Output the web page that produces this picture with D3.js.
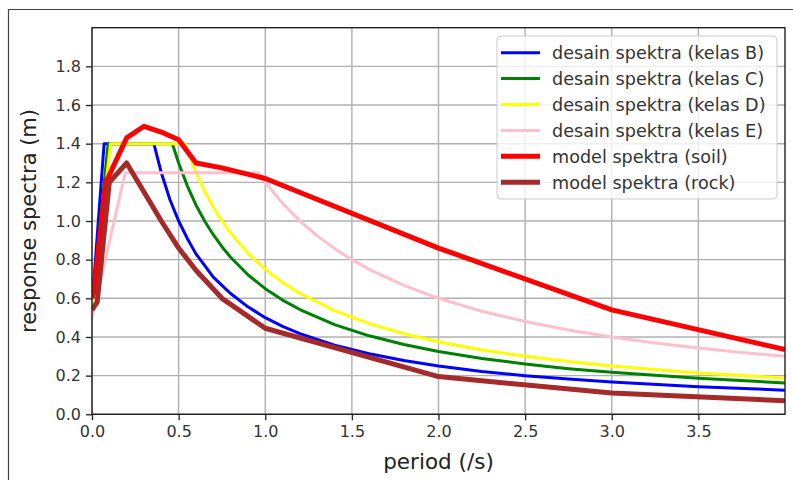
<!DOCTYPE html>
<html>
<head>
<meta charset="utf-8">
<script src="https://cdn.jsdelivr.net/npm/d3@7"></script>
<style>
  html, body { margin: 0; padding: 0; background: #fff; }
  svg { display: block; font-family: "DejaVu Sans", sans-serif; }
</style>
</head>
<body>
<svg id="chart" width="793" height="480"></svg>
<script>
// ---- data ----
const xTicks = [0, 0.5, 1.0, 1.5, 2.0, 2.5, 3.0, 3.5];
const yTicks = [0, 0.2, 0.4, 0.6, 0.8, 1.0, 1.2, 1.4, 1.6, 1.8];

const kelasB_T  = [0, 0.07, 0.357, 0.4, 0.45, 0.5, 0.55, 0.6, 0.65, 0.7, 0.75, 0.8, 0.9, 1.0, 1.1, 1.2, 1.4, 1.6, 1.8, 2.0, 2.25, 2.5, 2.75, 3.0, 3.5, 4.0];
const kelasB_Sa = [0.56, 1.4, 1.4, 1.25, 1.11, 1.0, 0.91, 0.83, 0.77, 0.71, 0.667, 0.625, 0.556, 0.5, 0.455, 0.417, 0.357, 0.313, 0.278, 0.25, 0.222, 0.2, 0.182, 0.167, 0.143, 0.125];

const kelasC_T  = [0, 0.093, 0.464, 0.5, 0.55, 0.6, 0.65, 0.7, 0.75, 0.8, 0.9, 1.0, 1.1, 1.2, 1.4, 1.6, 1.8, 2.0, 2.25, 2.5, 2.75, 3.0, 3.5, 4.0];
const kelasC_Sa = [0.56, 1.4, 1.4, 1.3, 1.182, 1.083, 1.0, 0.929, 0.867, 0.8125, 0.722, 0.65, 0.591, 0.542, 0.464, 0.406, 0.361, 0.325, 0.289, 0.26, 0.236, 0.217, 0.186, 0.1625];

const kelasD_T  = [0, 0.107, 0.536, 0.6, 0.65, 0.7, 0.75, 0.8, 0.9, 1.0, 1.1, 1.2, 1.4, 1.6, 1.8, 2.0, 2.25, 2.5, 2.75, 3.0, 3.5, 4.0];
const kelasD_Sa = [0.56, 1.4, 1.4, 1.25, 1.154, 1.071, 1.0, 0.9375, 0.833, 0.75, 0.682, 0.625, 0.536, 0.469, 0.417, 0.375, 0.333, 0.3, 0.273, 0.25, 0.214, 0.1875];

const kelasE_T  = [0, 0.192, 0.96, 1.0, 1.1, 1.2, 1.3, 1.4, 1.5, 1.6, 1.8, 2.0, 2.25, 2.5, 2.75, 3.0, 3.25, 3.5, 3.75, 4.0];
const kelasE_Sa = [0.5, 1.25, 1.25, 1.2, 1.091, 1.0, 0.923, 0.857, 0.8, 0.75, 0.667, 0.6, 0.533, 0.48, 0.436, 0.4, 0.369, 0.343, 0.32, 0.3];

const soil_T  = [0, 0.01, 0.08, 0.2, 0.3, 0.4, 0.5, 0.6, 0.75, 1.0, 2.0, 3.0, 4.0];
const soil_Sa = [0.6, 0.63, 1.2, 1.43, 1.49, 1.46, 1.42, 1.30, 1.275, 1.22, 0.86, 0.54, 0.335];

const rock_T  = [0, 0.03, 0.1, 0.2, 0.3, 0.4, 0.5, 0.6, 0.75, 1.0, 2.0, 3.0, 4.0];
const rock_Sa = [0.54, 0.58, 1.2, 1.30, 1.15, 1.0, 0.86, 0.745, 0.6, 0.445, 0.195, 0.11, 0.07];

const seriesNames = ["desain spektra (kelas B)", "desain spektra (kelas C)", "desain spektra (kelas D)",
                     "desain spektra (kelas E)", "model spektra (soil)", "model spektra (rock)"];

// ---- styling / layout ----
const colors = ["#0000ff", "#008000", "#ffff00", "#ffc0cb", "#ff0000", "#a52a2a"];
const widths = [3, 3, 3, 3, 5, 5];
const seriesT  = [kelasB_T, kelasC_T, kelasD_T, kelasE_T, soil_T, rock_T];
const seriesSa = [kelasB_Sa, kelasC_Sa, kelasD_Sa, kelasE_Sa, soil_Sa, rock_Sa];

const L = 92, R = 785, T = 27.7, B = 414.3;
const svg = d3.select("#chart");

// outer frame
svg.append("path").attr("d", "M8.5,480 V9.5 H793")
  .attr("fill", "none").attr("stroke", "#444").attr("stroke-width", 1.2);

const x = d3.scaleLinear().domain([0, 4]).range([L, R]);
const y = d3.scaleLinear().domain([0, 2]).range([B, T]);

// grid
const grid = svg.append("g");
grid.selectAll(".gx").data(xTicks).enter().append("line")
  .attr("x1", d => x(d)).attr("x2", d => x(d)).attr("y1", T).attr("y2", B)
  .attr("stroke", "#b0b0b0").attr("stroke-width", 1.4);
grid.selectAll(".gy").data(yTicks).enter().append("line")
  .attr("y1", d => y(d)).attr("y2", d => y(d)).attr("x1", L).attr("x2", R)
  .attr("stroke", "#b0b0b0").attr("stroke-width", 1.4);

// clip
svg.append("clipPath").attr("id", "clip").append("rect")
  .attr("x", L).attr("y", T).attr("width", R - L).attr("height", B - T);

const line = d3.line().x(d => x(d[0])).y(d => y(d[1]));
const plot = svg.append("g").attr("clip-path", "url(#clip)");
seriesT.forEach((ts, i) => {
  const pts = ts.map((t, j) => [t, seriesSa[i][j]]);
  plot.append("path").datum(pts).attr("d", line)
    .attr("fill", "none").attr("stroke", colors[i]).attr("stroke-width", widths[i])
    .attr("stroke-linejoin", "round").attr("stroke-linecap", "butt");
});

// axes
const fmt = d3.format(".1f");
const xAxis = svg.append("g").attr("transform", `translate(0,${B})`)
  .call(d3.axisBottom(x).tickValues(xTicks).tickFormat(fmt).tickSize(6).tickPadding(5));
const yAxis = svg.append("g").attr("transform", `translate(${L},0)`)
  .call(d3.axisLeft(y).tickValues(yTicks).tickFormat(fmt).tickSize(6).tickPadding(5));
[xAxis, yAxis].forEach(a => {
  a.select(".domain").remove();
  a.selectAll(".tick line").attr("stroke", "#222").attr("stroke-width", 1.3);
  a.selectAll(".tick text").attr("fill", "#333").style("font-size", "16px")
    .style("font-family", "DejaVu Sans");
});

// spines
svg.append("rect").attr("x", L).attr("y", T).attr("width", R - L).attr("height", B - T)
  .attr("fill", "none").attr("stroke", "#222").attr("stroke-width", 1.4);

// axis labels
svg.append("text").attr("x", (L + R) / 2).attr("y", 469).attr("text-anchor", "middle")
  .attr("fill", "#222").style("font-size", "21.5px").text("period (/s)");
svg.append("text").attr("transform", `translate(36,${(T + B) / 2}) rotate(-90)`)
  .attr("text-anchor", "middle").attr("fill", "#222").style("font-size", "21px")
  .text("response spectra (m)");

// legend
const lg = svg.append("g");
lg.append("rect").attr("x", 497).attr("y", 36).attr("width", 280).attr("height", 163)
  .attr("rx", 4).attr("fill", "rgba(255,255,255,0.8)").attr("stroke", "#cccccc").attr("stroke-width", 1);
seriesNames.forEach((name, i) => {
  const yy = 52.7 + i * 25.9;
  lg.append("line").attr("x1", 501).attr("x2", 540).attr("y1", yy).attr("y2", yy)
    .attr("stroke", colors[i]).attr("stroke-width", widths[i]);
  lg.append("text").attr("x", 552).attr("y", yy + 6.5).attr("fill", "#333")
    .style("font-size", "17.6px").text(name);
});
</script>
</body>
</html>
